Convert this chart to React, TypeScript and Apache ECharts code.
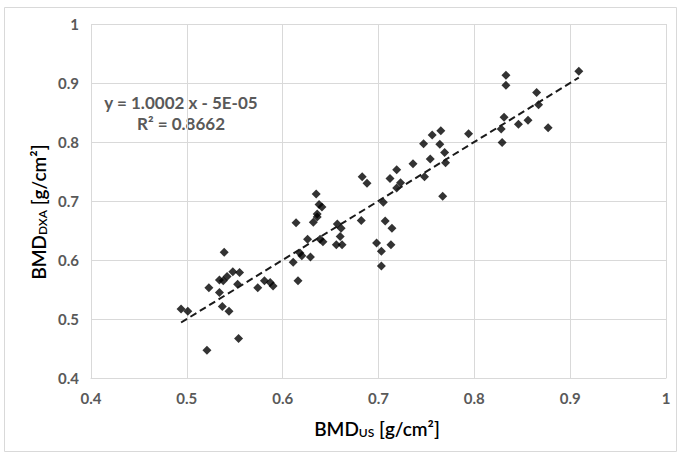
import React, { useEffect, useRef } from "react";
import * as echarts from "echarts";

const bmdUS: number[] = [
  0.494, 0.501, 0.521, 0.554, 0.523, 0.534, 0.537, 0.544, 0.534, 0.538,
  0.542, 0.548, 0.555, 0.553, 0.539, 0.574, 0.581, 0.587, 0.590, 0.611,
  0.616, 0.618, 0.620, 0.629, 0.626, 0.639, 0.642, 0.614, 0.632, 0.635,
  0.638, 0.641, 0.636, 0.636, 0.657, 0.661, 0.660, 0.656, 0.662, 0.683,
  0.688, 0.682, 0.705, 0.707, 0.714, 0.698, 0.703, 0.713, 0.703, 0.712,
  0.719, 0.719, 0.723, 0.736, 0.748, 0.767, 0.747, 0.756, 0.765, 0.764,
  0.769, 0.754, 0.770, 0.794, 0.831, 0.828, 0.829, 0.846, 0.856, 0.877,
  0.865, 0.867, 0.833, 0.833, 0.909,
];
const bmdDXA: number[] = [
  0.517, 0.513, 0.447, 0.467, 0.553, 0.545, 0.521, 0.513, 0.566, 0.565,
  0.572, 0.580, 0.579, 0.559, 0.613, 0.553, 0.565, 0.562, 0.556, 0.596,
  0.565, 0.612, 0.607, 0.605, 0.635, 0.635, 0.631, 0.663, 0.664, 0.712,
  0.694, 0.690, 0.678, 0.673, 0.661, 0.654, 0.640, 0.626, 0.626, 0.741,
  0.730, 0.667, 0.698, 0.666, 0.654, 0.629, 0.615, 0.626, 0.590, 0.738,
  0.753, 0.722, 0.731, 0.763, 0.741, 0.708, 0.797, 0.812, 0.819, 0.796,
  0.782, 0.771, 0.765, 0.814, 0.842, 0.822, 0.799, 0.830, 0.837, 0.824,
  0.884, 0.863, 0.913, 0.896, 0.920,
];
const slope = 1.0002;
const intercept = -0.00005;
const equationText = "y = 1.0002 x - 5E-05";
const r2Text = "R² = 0.8662";
const xTitle = ["BMD", "US", " [g/cm²]"];
const yTitle = ["BMD", "DXA", " [g/cm²]"];

export default function App() {
  const ref = useRef<HTMLDivElement>(null);
  useEffect(() => {
    if (!ref.current) return;
    const chart = echarts.init(ref.current, undefined, { renderer: "svg" });
    const pts = bmdUS.map((x, i) => [x, bmdDXA[i]]);
    const minX = Math.min(...bmdUS);
    const maxX = Math.max(...bmdUS);
    const trend = [
      [minX, slope * minX + intercept],
      [maxX, slope * maxX + intercept],
    ];
    const font = "Lato, 'Open Sans', sans-serif";
    const gray = "#595959";
    const rich = {
      m: { fontSize: 19, color: gray, fontFamily: font, fontWeight: 600 },
      s: { fontSize: 12, color: gray, fontFamily: font, fontWeight: 600, padding: [9, 0, 0, 0] },
    };
    const labelFmt = (v: number) => String(Math.round(v * 10) / 10);
    chart.setOption({
      animation: false,
      backgroundColor: "#ffffff",
      grid: { left: 91, right: 15, top: 24, bottom: 79, containLabel: false },
      xAxis: {
        type: "value",
        min: 0.4,
        max: 1,
        interval: 0.1,
        axisLine: { show: true, lineStyle: { color: "#d9d9d9" } },
        axisTick: { show: false },
        splitLine: { show: true, lineStyle: { color: "#d9d9d9", width: 1 } },
        axisLabel: {
          color: gray,
          fontFamily: font,
          fontSize: 15,
          fontWeight: "bold",
          margin: 12,
          formatter: labelFmt,
        },
      },
      yAxis: {
        type: "value",
        min: 0.4,
        max: 1,
        interval: 0.1,
        axisLine: { show: false },
        axisTick: { show: false },
        splitLine: { show: true, lineStyle: { color: "#d9d9d9", width: 1 } },
        axisLabel: {
          color: gray,
          fontFamily: font,
          fontSize: 15,
          fontWeight: "bold",
          margin: 12,
          formatter: labelFmt,
        },
      },
      graphic: [
        {
          type: "rect",
          shape: { x: 4.5, y: 7.5, width: 672, height: 444 },
          style: { fill: "none", stroke: "#d9d9d9", lineWidth: 1 },
          silent: true,
          z: -1,
        },
        {
          type: "text",
          x: 181,
          y: 102,
          style: {
            text: equationText,
            align: "center",
            verticalAlign: "middle",
            fill: gray,
            font: `bold 17px ${font}`,
          },
        },
        {
          type: "text",
          x: 181,
          y: 123,
          style: {
            text: r2Text,
            align: "center",
            verticalAlign: "middle",
            fill: gray,
            font: `bold 17px ${font}`,
          },
        },
        {
          type: "text",
          x: 377,
          y: 428,
          style: {
            text: `{m|${xTitle[0]}}{s|${xTitle[1]}}{m|${xTitle[2]}}`,
            rich,
            align: "center",
            verticalAlign: "middle",
          },
        },
        {
          type: "text",
          x: 38,
          y: 212,
          rotation: Math.PI / 2,
          style: {
            text: `{m|${yTitle[0]}}{s|${yTitle[1]}}{m|${yTitle[2]}}`,
            rich,
            align: "center",
            verticalAlign: "middle",
          },
        },
      ],
      series: [
        {
          type: "scatter",
          data: pts,
          symbol: "diamond",
          symbolSize: 9,
          itemStyle: { color: "#000000" },
          z: 3,
        },
        {
          type: "line",
          data: trend,
          symbol: "none",
          lineStyle: { color: "#1a1a1a", width: 2, type: [7, 4] },
          z: 4,
        },
      ],
    });
    return () => chart.dispose();
  }, []);
  return (
    <div
      ref={ref}
      style={{ position: "fixed", left: 0, top: 0, width: 681, height: 457 }}
    />
  );
}
